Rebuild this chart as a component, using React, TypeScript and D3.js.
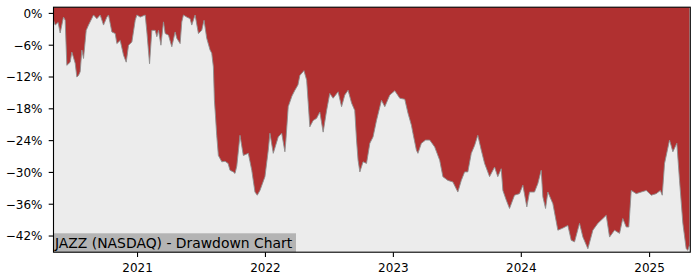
import React from "react";
import * as d3 from "d3";

// decimal-year dates of sampled points
const dates: number[] = [
  2020.345, 2020.358, 2020.381, 2020.397, 2020.423, 2020.436, 2020.449, 2020.475, 2020.488, 2020.514,
  2020.527, 2020.540, 2020.553, 2020.566, 2020.579, 2020.600, 2020.618, 2020.657, 2020.683, 2020.709,
  2020.735, 2020.761, 2020.774, 2020.800, 2020.826, 2020.839, 2020.865, 2020.891, 2020.912, 2020.930,
  2020.956, 2020.982, 2020.995, 2021.021, 2021.060, 2021.073, 2021.094, 2021.112, 2021.138, 2021.151,
  2021.164, 2021.183, 2021.203, 2021.216, 2021.242, 2021.268, 2021.294, 2021.307, 2021.333, 2021.346,
  2021.359, 2021.385, 2021.411, 2021.424, 2021.450, 2021.476, 2021.502, 2021.520, 2021.541, 2021.567,
  2021.580, 2021.593, 2021.601, 2021.609, 2021.619, 2021.632, 2021.659, 2021.684, 2021.708, 2021.723,
  2021.749, 2021.762, 2021.776, 2021.801, 2021.827, 2021.866, 2021.893, 2021.918, 2021.936, 2021.957,
  2021.996, 2022.022, 2022.035, 2022.061, 2022.100, 2022.127, 2022.152, 2022.160, 2022.178, 2022.207,
  2022.230, 2022.254, 2022.269, 2022.301, 2022.322, 2022.347, 2022.373, 2022.400, 2022.425, 2022.451,
  2022.478, 2022.503, 2022.529, 2022.568, 2022.595, 2022.620, 2022.646, 2022.673, 2022.698, 2022.712,
  2022.724, 2022.738, 2022.763, 2022.790, 2022.816, 2022.841, 2022.868, 2022.907, 2022.933, 2022.972,
  2023.011, 2023.050, 2023.089, 2023.114, 2023.141, 2023.153, 2023.180, 2023.192, 2023.219, 2023.252,
  2023.284, 2023.323, 2023.362, 2023.387, 2023.426, 2023.465, 2023.504, 2023.531, 2023.557, 2023.582,
  2023.609, 2023.635, 2023.660, 2023.687, 2023.713, 2023.752, 2023.791, 2023.816, 2023.843, 2023.856,
  2023.882, 2023.908, 2023.947, 2023.986, 2024.012, 2024.043, 2024.064, 2024.103, 2024.129, 2024.155,
  2024.168, 2024.189, 2024.207, 2024.246, 2024.285, 2024.324, 2024.363, 2024.389, 2024.415, 2024.454,
  2024.480, 2024.519, 2024.558, 2024.597, 2024.636, 2024.662, 2024.688, 2024.727, 2024.766, 2024.791,
  2024.818, 2024.838, 2024.857, 2024.896, 2024.935, 2024.974, 2025.013, 2025.052, 2025.084, 2025.099,
  2025.117, 2025.156, 2025.182, 2025.213, 2025.234, 2025.260, 2025.286, 2025.299, 2025.312,
];

// drawdown in percent
const drawdown: number[] = [
  -1.3, -2.2, -1.7, -3.7, -0.7, -1.3, -9.8, -9.2, -7.3, -9.4,
  -12.0, -11.7, -11.0, -6.9, -8.5, -3.2, -2.2, -0.3, -1.0, -0.3,
  -2.2, -0.7, -0.3, -3.5, -3.8, -5.7, -5.1, -7.9, -9.2, -6.0,
  -5.4, -1.3, -0.3, -0.7, -0.3, -3.5, -9.5, -3.2, -3.2, -4.4,
  -3.2, -6.0, -1.6, -3.8, -4.1, -6.3, -3.5, -4.7, -5.7, -1.6,
  -0.3, -0.7, -1.0, -2.2, -0.3, -3.8, -3.2, -1.3, -4.7, -6.9,
  -7.5, -10.1, -16.4, -19.2, -23.0, -26.8, -28.0, -27.9, -28.3, -29.6,
  -29.9, -30.2, -28.8, -23.0, -26.8, -26.4, -29.6, -33.7, -34.3, -33.4,
  -30.8, -25.8, -22.6, -26.4, -23.3, -22.6, -26.1, -23.9, -17.6, -15.6,
  -14.5, -13.5, -11.7, -10.8, -12.6, -21.4, -20.2, -19.8, -18.6, -22.4,
  -18.3, -15.1, -16.0, -14.8, -17.6, -15.4, -14.5, -16.9, -18.3, -23.9,
  -27.7, -29.9, -28.0, -28.3, -24.5, -23.3, -20.2, -16.4, -17.6, -15.4,
  -14.6, -16.0, -16.2, -18.8, -21.1, -22.6, -25.8, -26.4, -24.5, -23.9,
  -23.9, -25.2, -27.7, -30.8, -31.5, -31.8, -33.7, -31.5, -29.9, -29.9,
  -26.4, -24.9, -23.0, -25.8, -28.3, -30.8, -29.0, -30.8, -29.3, -33.4,
  -35.2, -36.8, -34.3, -34.0, -32.4, -36.5, -33.7, -33.7, -32.1, -29.6,
  -34.6, -36.8, -33.7, -35.9, -40.9, -40.5, -40.0, -42.8, -43.1, -39.6,
  -42.2, -44.4, -40.9, -39.6, -38.7, -38.1, -42.2, -40.9, -41.5, -38.7,
  -40.3, -40.3, -33.4, -34.0, -33.7, -33.4, -34.3, -34.0, -33.4, -34.3,
  -28.3, -23.9, -26.1, -24.5, -31.5, -39.6, -44.4, -44.7, -43.7,
];

const yTicks: number[] = [0, -6, -12, -18, -24, -30, -36, -42];
const xTickYears: number[] = [2021, 2022, 2023, 2024, 2025];
const title = "JAZZ (NASDAQ) - Drawdown Chart";

function toDate(t: number): Date {
  const yr = Math.floor(t);
  const s = Date.UTC(yr, 0, 1);
  const e = Date.UTC(yr + 1, 0, 1);
  return new Date(s + (t - yr) * (e - s));
}

const fmtPct = (v: number) => (v < 0 ? "\u2212" + Math.abs(v) : String(v)) + "%";

export default function App() {
  const W = 700;
  const H = 280;
  const m = { left: 53.5, right: 690.3, top: 7.2, bottom: 252.2 };
  const data = dates.map((d, i) => ({ date: toDate(d), v: drawdown[i] }));
  const x = d3
    .scaleUtc()
    .domain(d3.extent(data, (d) => d.date) as [Date, Date])
    .range([m.left, m.right - 0.8]);
  const y = d3.scaleLinear().domain([-45.05, 1.17]).range([m.bottom, m.top]);
  const area = d3
    .area<{ date: Date; v: number }>()
    .x((d) => x(d.date))
    .y0(m.top)
    .y1((d) => y(d.v));
  const line = d3
    .line<{ date: Date; v: number }>()
    .x((d) => x(d.date))
    .y((d) => y(d.v));
  const font = "'DejaVu Sans', sans-serif";

  return (
    <svg
      width={W}
      height={H}
      style={{ position: "absolute", left: 0, top: 0, background: "#fff" }}
    >
      <rect x={m.left} y={m.top} width={m.right - m.left} height={m.bottom - m.top} fill="#ececec" />
      <path d={area(data) || ""} fill="#b03030" />
      <path d={line(data) || ""} fill="none" stroke="#8f8f8f" strokeWidth={0.9} />
      <rect x={m.left} y={233.3} width={296 - m.left} height={m.bottom - 233.3} fill="#b4b4b4" />
      <text x={55} y={248.3} fontFamily={font} fontSize={13.9} fill="#000">
        {title}
      </text>
      <rect
        x={m.left}
        y={m.top}
        width={m.right - m.left}
        height={m.bottom - m.top}
        fill="none"
        stroke="#000"
        strokeWidth={1.1}
      />
      {yTicks.map((t) => (
        <g key={t} transform={`translate(0,${y(t)})`}>
          <line x1={m.left - 4.8} x2={m.left} stroke="#000" strokeWidth={1.1} />
          <text x={m.left - 11} dy="0.36em" textAnchor="end" fontFamily={font} fontSize={12} fill="#000">
            {fmtPct(t)}
          </text>
        </g>
      ))}
      {xTickYears.map((yr) => {
        const px = x(new Date(Date.UTC(yr, 0, 1)));
        return (
          <g key={yr} transform={`translate(${px},0)`}>
            <line y1={m.bottom} y2={m.bottom + 4.8} stroke="#000" strokeWidth={1.1} />
            <text y={271.8} textAnchor="middle" fontFamily={font} fontSize={12} fill="#000">
              {yr}
            </text>
          </g>
        );
      })}
    </svg>
  );
}
